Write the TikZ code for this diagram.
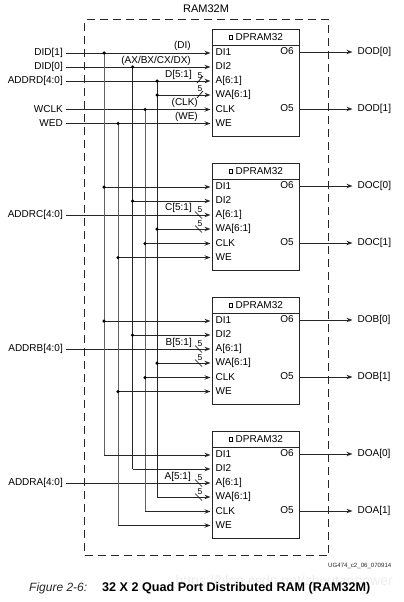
\documentclass[tikz,border=0pt]{standalone}
\usepackage{fontspec}
\setmainfont{Liberation Sans}
\usetikzlibrary{arrows.meta}
\tikzset{
  wire/.style={line width=0.92pt,draw=black!85},
  graywire/.style={line width=1.0pt,draw=black!62},
  arrowwire/.style={-{Stealth[length=6pt,width=4.4pt]}},
  txt/.style={font=\fontsize{10}{10}\selectfont,inner sep=0pt,text height=7.2pt,text depth=2pt,text=black},
  small/.style={font=\fontsize{8.5}{8.5}\selectfont,inner sep=0pt,text=black},
  blockbox/.style={draw=black!85,line width=1.2pt,minimum width=87pt,minimum height=107pt,inner sep=0pt,anchor=north west},
  dot/.style={circle,fill=black,inner sep=0pt,minimum size=3.5pt},
  slash/.style={line width=0.7pt,draw=black},
  insig/.style={txt,anchor=east,inner xsep=3pt},
  outsig/.style={txt,anchor=west,inner xsep=5pt},
  sq/.style={draw=black,line width=0.7pt,inner sep=0pt,minimum size=3.6pt}
}
\begin{document}
\begin{tikzpicture}[x=1pt,y=-1pt]
\useasboundingbox (0,0) rectangle (404,602);
% outer dashed box
\node[draw=black!85,line width=1.1pt,dash pattern=on 8pt off 5pt,minimum width=244pt,minimum height=536pt,inner sep=0pt,anchor=north west] (outer) at (84,19) {};
\node[font=\fontsize{11}{11}\selectfont,inner sep=0pt,text=black] (title) at (206,9) {RAM32M};
% blocks
\foreach \b/\T/\oa/\ob in {D/29/DOD[0]/DOD[1],C/163/DOC[0]/DOC[1],B/297/DOB[0]/DOB[1],A/431/DOA[0]/DOA[1]}{
  \node[blockbox] (blk\b) at (212,\T) {};
  \coordinate (hl\b) at (212,\T+16);
  \coordinate (hr\b) at (299,\T+16);
  \draw[draw=black!85,line width=0.92pt] (hl\b) -- (hr\b);
  \node[sq] (sq\b) at (231,\T+8.5) {};
  \node[txt,anchor=west] (name\b) at (235.5,\T+8.5) {DPRAM32};
  \foreach \p/\dy/\t in {di1/24/DI1,di2/38/DI2,a/52/A[6:1],wa/66/WA[6:1],clk/80.5/CLK,we/94.5/WE}{
    \coordinate (pin\b\p) at (210.5,\T+\dy);
    \node[txt,anchor=west] (lab\b\p) at (215.5,\T+\dy) {\t};
  }
  \node[txt,anchor=east] (o6\b) at (294,\T+23) {O6};
  \node[txt,anchor=east] (o5\b) at (294,\T+80) {O5};
  \coordinate (src6\b) at (299,\T+23);
  \coordinate (src5\b) at (299,\T+80);
  \node[outsig] (out6\b) at (352.5,\T+23) {\oa};
  \node[outsig] (out5\b) at (352.5,\T+80) {\ob};
  \draw[wire,arrowwire] (src6\b) -- (out6\b.west);
  \draw[wire,arrowwire] (src5\b) -- (out5\b.west);
}
% bus columns
\coordinate (xDI) at (104,0);
\coordinate (xWE) at (118,0);
\coordinate (xDT) at (132.5,0);
\coordinate (xCK) at (145,0);
\coordinate (xWA) at (157,0);
% inputs
\node[insig] (iD1) at (66,53) {DID[1]};
\node[insig] (iD0) at (66,67) {DID[0]};
\node[insig] (iAD) at (66,81) {ADDRD[4:0]};
\node[insig] (iCK) at (66,109.5) {WCLK};
\node[insig] (iWE) at (66,123.5) {WED};
\node[insig] (iAC) at (66,215) {ADDRC[4:0]};
\node[insig] (iAB) at (66,349) {ADDRB[4:0]};
\node[insig] (iAA) at (66,483) {ADDRA[4:0]};
\draw[wire,arrowwire] (iD1.east) -- (pinDdi1);
\draw[wire,arrowwire] (iD0.east) -- (pinDdi2);
\draw[wire,arrowwire] (iAD.east) -- (pinDa);
\draw[wire,arrowwire] (iCK.east) -- (pinDclk);
\draw[wire,arrowwire] (iWE.east) -- (pinDwe);
\draw[wire,arrowwire] (iAC.east) -- (pinCa);
\draw[wire,arrowwire] (iAB.east) -- (pinBa);
\draw[wire,arrowwire] (iAA.east) -- (pinAa);
% vertical buses with their lower branches
\draw[graywire] (xDI|-pinDdi1) -- (xDI|-pinAdi1);
\draw[graywire] (xWE|-pinDwe) -- (xWE|-pinAwe);
\draw[wire] (xDT|-pinDdi2) -- (xDT|-pinAdi2);
\draw[graywire] (xCK|-pinDclk) -- (xCK|-pinAclk);
\draw[wire] (xWA|-pinDa) -- (xWA|-pinAwa);
\foreach \b in {C,B,A}{
  \draw[wire,arrowwire] (xDI|-pin\b di1) -- (pin\b di1);
  \draw[wire,arrowwire] (xDT|-pin\b di2) -- (pin\b di2);
  \draw[wire,arrowwire] (xCK|-pin\b clk) -- (pin\b clk);
  \draw[wire,arrowwire] (xWE|-pin\b we) -- (pin\b we);
}
\foreach \b in {D,C,B,A}{
  \draw[wire,arrowwire] (xWA|-pin\b wa) -- (pin\b wa);
}
% junction dots
\foreach \b/\i in {D/1,C/2,B/3}{
  \node[dot] (dDI\i) at (xDI|-pin\b di1) {};
  \node[dot] (dDT\i) at (xDT|-pin\b di2) {};
  \node[dot] (dCK\i) at (xCK|-pin\b clk) {};
  \node[dot] (dWE\i) at (xWE|-pin\b we) {};
  \node[dot] (dWA\i) at (xWA|-pin\b wa) {};
}
\node[dot] (dAD) at (xWA|-pinDa) {};
% bus slashes and widths
\draw[slash] (197,83) -- (203,76);
\draw[slash] (197,98) -- (203,91);
\node[small] (w1) at (200,75.5) {5};
\node[small] (w2) at (200,89) {5};
\foreach \b/\T in {C/163,B/297,A/431}{
  \draw[slash] (195,\T+48.5) -- (202,\T+55.5);
  \draw[slash] (195,\T+62.5) -- (202,\T+69.5);
  \node[small] (wa\b) at (200,\T+47) {5};
  \node[small] (wb\b) at (200,\T+60.5) {5};
}
% signal labels
\node[txt,anchor=east] (lDI) at (191,46) {(DI)};
\node[txt,anchor=east] (lAX) at (191,60.5) {(AX/BX/CX/DX)};
\node[txt,anchor=east] (lD) at (192,74.5) {D[5:1]};
\node[txt,anchor=east] (lCK) at (198,102.5) {(CLK)};
\node[txt,anchor=east] (lWE) at (198,116.5) {(WE)};
\node[txt,anchor=east] (lC) at (192,208) {C[5:1]};
\node[txt,anchor=east] (lB) at (192,343) {B[5:1]};
\node[txt,anchor=east] (lA) at (191,477) {A[5:1]};
% footer
\node[font=\fontsize{14}{14}\selectfont,inner sep=0pt,anchor=east,text=black!7] (mark) at (393,582) {https://blog.csdn.net/zhoutaopower};
\node[font=\fontsize{6.1}{6.1}\selectfont,inner sep=0pt,anchor=east,text=black!85] (ug) at (391.5,565.5) {UG474\_c2\_06\_070914};
\node[font=\fontsize{12}{12}\selectfont\itshape,inner sep=0pt,anchor=west,text=black!85] (figno) at (29,588.5) {Figure 2-6:};
\node[font=\fontsize{12.6}{12.6}\selectfont\bfseries,inner sep=0pt,anchor=west,text=black] (cap) at (102,588.5) {32 X 2 Quad Port Distributed RAM (RAM32M)};
\end{tikzpicture}
\end{document}
